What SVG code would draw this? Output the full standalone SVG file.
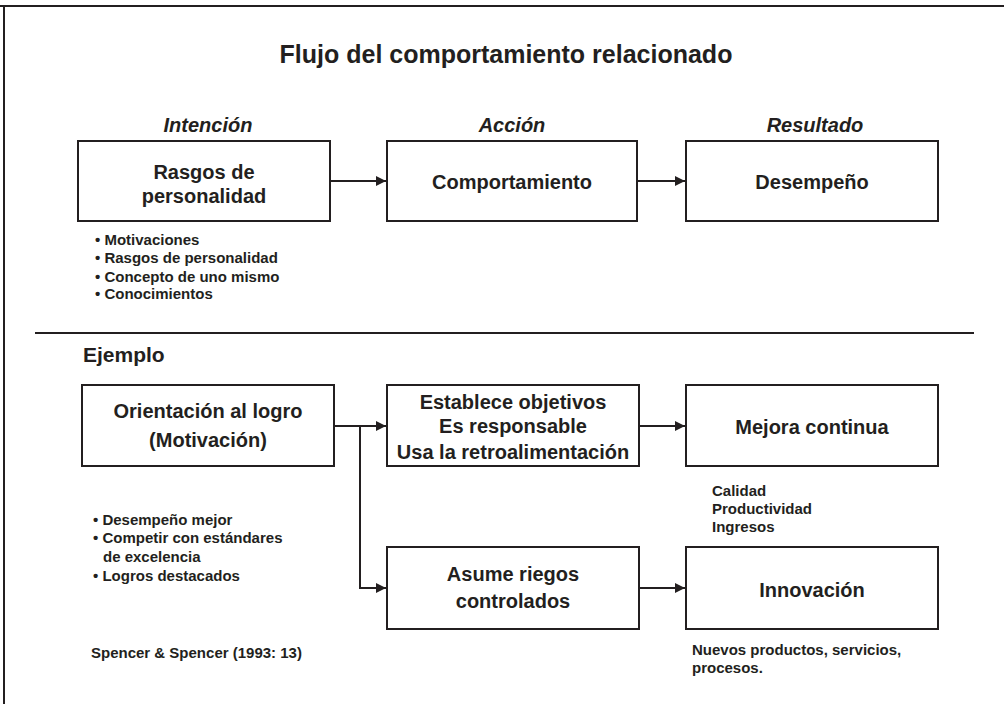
<svg xmlns="http://www.w3.org/2000/svg" width="1004" height="704" viewBox="0 0 1004 704">
<defs>
<style>
.t{font-family:"Liberation Sans",Arial,sans-serif;font-weight:bold;fill:#231f20}
.box{fill:#fff;stroke:#231f20;stroke-width:2}
.c{stroke:#231f20;stroke-width:2;fill:none}
.bx{font-size:20px;text-anchor:middle}
.sm{font-size:15px}
.hd{font-size:20px;font-style:italic;text-anchor:middle}
</style>
<marker id="ah" viewBox="0 0 10 10" refX="10" refY="5" markerWidth="5" markerHeight="5" orient="auto" markerUnits="strokeWidth">
<path d="M0,0 L10,5 L0,10 z" fill="#231f20"/>
</marker>
</defs>
<rect width="1004" height="704" fill="#fff"/>
<g id="frame">
<line x1="0" y1="6" x2="1004" y2="6" class="c"/>
<line x1="4" y1="6" x2="4" y2="704" class="c"/>
<line x1="35" y1="333" x2="974" y2="333" class="c"/>
</g>
<text class="t" x="506" y="63" font-size="25" text-anchor="middle">Flujo del comportamiento relacionado</text>
<text class="t hd" x="208" y="132">Intención</text>
<text class="t hd" x="512" y="132">Acción</text>
<text class="t hd" x="815" y="132">Resultado</text>

<g id="connectors">
<line x1="330" y1="181" x2="386" y2="181" class="c" marker-end="url(#ah)"/>
<line x1="637" y1="181" x2="685" y2="181" class="c" marker-end="url(#ah)"/>
<line x1="334" y1="426" x2="386" y2="426" class="c" marker-end="url(#ah)"/>
<polyline points="360,426 360,588 386,588" class="c" marker-end="url(#ah)"/>
<line x1="639" y1="426" x2="685" y2="426" class="c" marker-end="url(#ah)"/>
<line x1="639" y1="588" x2="685" y2="588" class="c" marker-end="url(#ah)"/>
</g>

<g id="n1">
<rect class="box" x="78" y="141" width="252" height="80"/>
<text class="t bx" x="204" y="179">Rasgos de</text>
<text class="t bx" x="204" y="203">personalidad</text>
</g>
<g id="n2">
<rect class="box" x="387" y="141" width="250" height="80"/>
<text class="t bx" x="512" y="189">Comportamiento</text>
</g>
<g id="n3">
<rect class="box" x="686" y="141" width="252" height="80"/>
<text class="t bx" x="812" y="189">Desempeño</text>
</g>
<g id="list1">
<text class="t sm" x="95" y="245">• Motivaciones</text>
<text class="t sm" x="95" y="263">• Rasgos de personalidad</text>
<text class="t sm" x="95" y="282">• Concepto de uno mismo</text>
<text class="t sm" x="95" y="299">• Conocimientos</text>
</g>

<text class="t" x="83" y="362" font-size="21">Ejemplo</text>

<g id="n4">
<rect class="box" x="82" y="385" width="252" height="81"/>
<text class="t bx" x="208" y="418">Orientación al logro</text>
<text class="t bx" x="208" y="447">(Motivación)</text>
</g>
<g id="n5">
<rect class="box" x="387" y="385" width="252" height="81"/>
<text class="t bx" x="513" y="409" font-size="21">Establece objetivos</text>
<text class="t bx" x="513" y="433" font-size="21">Es responsable</text>
<text class="t bx" x="513" y="459" font-size="21">Usa la retroalimentación</text>
</g>
<g id="n6">
<rect class="box" x="686" y="385" width="252" height="81"/>
<text class="t bx" x="812" y="434">Mejora continua</text>
</g>
<g id="n7">
<rect class="box" x="387" y="547" width="252" height="82"/>
<text class="t bx" x="513" y="581">Asume riegos</text>
<text class="t bx" x="513" y="608">controlados</text>
</g>
<g id="n8">
<rect class="box" x="686" y="547" width="252" height="82"/>
<text class="t bx" x="812" y="597">Innovación</text>
</g>

<g id="list2">
<text class="t sm" x="93" y="525">• Desempeño mejor</text>
<text class="t sm" x="93" y="543">• Competir con estándares</text>
<text class="t sm" x="103" y="562">de excelencia</text>
<text class="t sm" x="93" y="581">• Logros destacados</text>
</g>
<text class="t sm" x="91" y="658">Spencer &amp; Spencer (1993: 13)</text>
<g id="list3">
<text class="t sm" x="712" y="496">Calidad</text>
<text class="t sm" x="712" y="514">Productividad</text>
<text class="t sm" x="712" y="532">Ingresos</text>
</g>
<g id="list4">
<text class="t sm" x="692" y="655">Nuevos productos, servicios,</text>
<text class="t sm" x="692" y="673">procesos.</text>
</g>
</svg>
